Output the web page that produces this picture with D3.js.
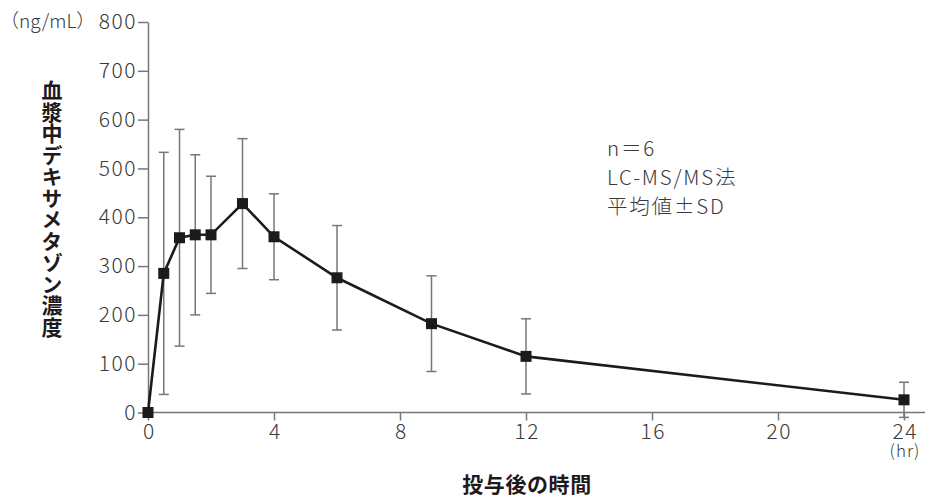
<!DOCTYPE html>
<html>
<head>
<meta charset="utf-8">
<script src="https://cdn.jsdelivr.net/npm/d3@7"></script>
<style>
  body { margin: 0; background: #fff; }
  text { font-family: "Noto Sans CJK JP", "Noto Sans", sans-serif; }
</style>
</head>
<body>
<svg width="925" height="497"></svg>
<script>
// time (hr), mean concentration (ng/mL), SD
const times = [0, 0.5, 1, 1.5, 2, 3, 4, 6, 9, 12, 24];
const means = [0, 285, 358, 364, 364, 428, 360, 276, 182, 115, 26];
const sds   = [0, 248, 222, 164, 120, 133, 88, 107, 98, 77, 36];
const xTicks = [0, 4, 8, 12, 16, 20, 24];
const yTicks = [0, 100, 200, 300, 400, 500, 600, 700, 800];

const svg = d3.select("svg");
const x = d3.scaleLinear().domain([0, 24]).range([148, 904]);
const y = d3.scaleLinear().domain([0, 800]).range([412.5, 22]);
const axisColor = "#777";
const labelColor = "#3a3a3a";
const darkColor = "#1e1a1b";

// x axis
const xg = svg.append("g").attr("transform", "translate(0,412.5)")
  .call(d3.axisBottom(x).tickValues(xTicks).tickSize(8).tickPadding(4).tickSizeOuter(0));
xg.select(".domain").remove();
xg.append("line").attr("x1", 148).attr("x2", 925).attr("stroke", axisColor).attr("stroke-width", 1.5);
xg.selectAll(".tick line").attr("stroke", axisColor).attr("stroke-width", 1.5);
xg.selectAll(".tick text").attr("fill", labelColor).attr("font-size", 21)
  .attr("font-weight", 300).attr("letter-spacing", 1.5).attr("dx", 0.75);

// y axis
const yg = svg.append("g").attr("transform", "translate(148,0)")
  .call(d3.axisLeft(y).tickValues(yTicks).tickSize(10).tickPadding(1).tickSizeOuter(0));
yg.select(".domain").attr("stroke", axisColor).attr("stroke-width", 1.5);
yg.selectAll(".tick line").attr("stroke", axisColor).attr("stroke-width", 1.5);
yg.selectAll(".tick text").attr("fill", labelColor).attr("font-size", 21)
  .attr("font-weight", 300).attr("letter-spacing", 1.5);

svg.append("text").attr("x", 0).attr("y", 28).attr("fill", labelColor)
  .attr("font-size", 19).attr("font-weight", 300).text("（ng/mL）");
svg.append("text").attr("x", 905).attr("y", 457).attr("text-anchor", "middle").attr("fill", labelColor)
  .attr("font-size", 17).attr("font-weight", 300).attr("letter-spacing", 1).text("(hr)");

// error bars
const eb = svg.append("g").attr("stroke", "#777").attr("stroke-width", 1.5);
times.forEach((t, i) => {
  if (sds[i] === 0) return;
  const top = y(means[i] + sds[i]), bot = y(means[i] - sds[i]), cx = x(t);
  eb.append("line").attr("x1", cx).attr("x2", cx).attr("y1", top).attr("y2", bot);
  eb.append("line").attr("x1", cx - 5).attr("x2", cx + 5).attr("y1", top).attr("y2", top);
  eb.append("line").attr("x1", cx - 5).attr("x2", cx + 5).attr("y1", bot).attr("y2", bot);
});

// mean line
const line = d3.line().x((d, i) => x(times[i])).y(d => y(d));
svg.append("path").datum(means).attr("d", line)
  .attr("fill", "none").attr("stroke", darkColor).attr("stroke-width", 2.6);

// markers
svg.selectAll("rect.pt").data(means).enter().append("rect")
  .attr("class", "pt")
  .attr("x", (d, i) => x(times[i]) - 5.5).attr("y", d => y(d) - 5.5)
  .attr("width", 11).attr("height", 11).attr("fill", darkColor);

// annotation
const notes = ["n＝6", "LC-MS/MS法", "平均値±SD"];
svg.selectAll("text.note").data(notes).enter().append("text")
  .attr("class", "note").attr("x", 607).attr("y", (d, i) => 156 + i * 29)
  .attr("fill", labelColor).attr("font-size", 20.5).attr("font-weight", 300)
  .attr("letter-spacing", 1.8).text(d => d);

// axis titles
svg.append("text").attr("x", 527).attr("y", 492).attr("text-anchor", "middle")
  .attr("font-size", 21).attr("font-weight", 700).attr("letter-spacing", 0.6)
  .attr("fill", darkColor).text("投与後の時間");
svg.append("text").attr("x", 52).attr("y", 80)
  .attr("style", "writing-mode: vertical-rl; text-orientation: upright; letter-spacing: 0.5px")
  .attr("font-size", 21).attr("font-weight", 700).attr("fill", darkColor).text("血漿中デキサメタゾン濃度");
</script>
</body>
</html>
